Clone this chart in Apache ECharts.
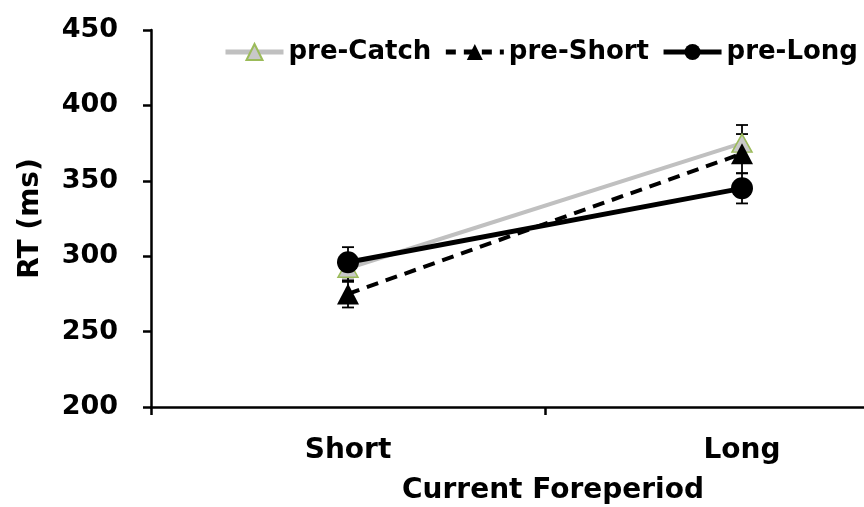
<!DOCTYPE html>
<html><head><meta charset="utf-8">
<script src="https://cdn.jsdelivr.net/npm/echarts@6/dist/echarts.min.js"></script>
<style>html,body{margin:0;padding:0;background:#fff}#c{width:864px;height:507px}</style>
</head><body><div id="c"></div>
<script>
const categories = ['Short', 'Long'];
const yTicks = [200, 250, 300, 350, 400, 450];
const preCatch = [292, 375];
const preCatchErr = [9, 12];
const preShort = [275, 368];
const preShortErr = [9, 13];
const preLong = [296, 345];
const preLongErr = [10, 10];

const FONT = 'DejaVu Sans';
const chart = echarts.init(document.getElementById('c'), null, {renderer: 'canvas'});

function errSeries(means, errs, z) {
  return {
    type: 'custom', z: z, silent: true,
    data: means.map((m, i) => [i, m, errs[i]]),
    renderItem: function (params, api) {
      const x = api.value(0), m = api.value(1), e = api.value(2);
      const top = api.coord([x, m + e]);
      const bot = api.coord([x, m - e]);
      const hw = 6;
      const st = {stroke: '#000', lineWidth: 1.8};
      return {type: 'group', children: [
        {type: 'line', shape: {x1: top[0], y1: top[1], x2: bot[0], y2: bot[1]}, style: st},
        {type: 'line', shape: {x1: top[0] - hw, y1: top[1], x2: top[0] + hw, y2: top[1]}, style: st},
        {type: 'line', shape: {x1: bot[0] - hw, y1: bot[1], x2: bot[0] + hw, y2: bot[1]}, style: st}
      ]};
    }
  };
}

chart.setOption({
  animation: false,
  backgroundColor: '#fff',
  grid: {left: 151, top: 30, height: 377, width: 788, containLabel: false, outerBoundsMode: 'none'},
  legend: {
    left: 223, top: 39, width: 660, padding: 0, itemWidth: 58, itemHeight: 20, itemGap: 12,
    textStyle: {fontFamily: FONT, fontWeight: 'bold', fontSize: 26, color: '#000'},
    data: [
      {name: 'pre-Catch', lineStyle: {width: 5, color: '#c0c0c0'}},
      {name: 'pre-Short', lineStyle: {width: 5, color: '#000', type: [10, 8]}},
      {name: 'pre-Long', lineStyle: {width: 5, color: '#000'}}
    ]
  },
  xAxis: {
    type: 'category', data: categories, boundaryGap: true,
    axisLine: {lineStyle: {color: '#000', width: 2.5}},
    axisTick: {show: true, length: 8, lineStyle: {color: '#000', width: 2.5}},
    axisLabel: {fontFamily: FONT, fontWeight: 'bold', fontSize: 28, color: '#000', margin: 30},
    name: 'Current Foreperiod', nameLocation: 'middle', nameGap: 70,
    nameTextStyle: {fontFamily: FONT, fontWeight: 'bold', fontSize: 28, color: '#000', padding: [0, 0, 0, 16]}
  },
  yAxis: {
    type: 'value', min: 200, max: 450, interval: 50,
    splitLine: {show: false},
    axisLine: {show: true, lineStyle: {color: '#000', width: 2.5}},
    axisTick: {show: true, length: 8, lineStyle: {color: '#000', width: 2.5}},
    axisLabel: {fontFamily: FONT, fontWeight: 'bold', fontSize: 27, color: '#000', margin: 33,
      formatter: v => yTicks.includes(v) ? String(v) : ''},
    name: 'RT (ms)', nameLocation: 'middle', nameGap: 106, nameRotate: 90,
    nameTextStyle: {fontFamily: FONT, fontWeight: 'bold', fontSize: 28, color: '#000'}
  },
  series: [
    errSeries(preCatch, preCatchErr, 1),
    errSeries(preShort, preShortErr, 1),
    errSeries(preLong, preLongErr, 1),
    {
      name: 'pre-Catch', type: 'line', data: preCatch, z: 2,
      symbol: 'triangle', symbolSize: [20, 18],
      lineStyle: {color: '#c0c0c0', width: 4},
      itemStyle: {color: '#c8c8c8', borderColor: '#9bbb59', borderWidth: 1.5}
    },
    {
      name: 'pre-Short', type: 'line', data: preShort, z: 3,
      symbol: 'triangle', symbolSize: [22, 21],
      lineStyle: {color: '#000', width: 4, type: [12, 8]},
      itemStyle: {color: '#000', borderColor: '#000', borderWidth: 0}
    },
    {
      name: 'pre-Long', type: 'line', data: preLong, z: 4,
      symbol: 'circle', symbolSize: 22,
      lineStyle: {color: '#000', width: 5},
      itemStyle: {color: '#000', borderColor: '#000', borderWidth: 0}
    }
  ]
});
</script></body></html>
